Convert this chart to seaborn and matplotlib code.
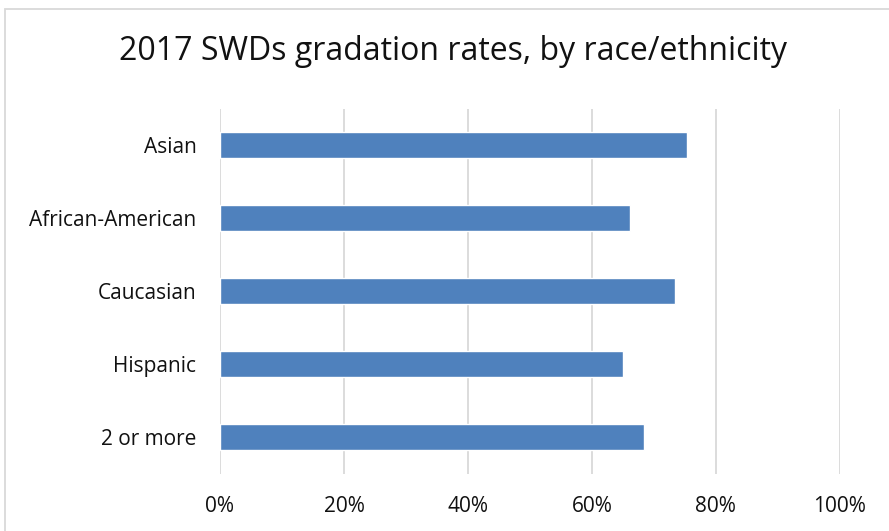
import matplotlib
matplotlib.use('Agg')
import matplotlib.pyplot as plt
import seaborn as sns
import pandas as pd
from matplotlib.ticker import PercentFormatter
from matplotlib.patches import Rectangle

# Data
groups = ['Asian', 'African-American', 'Caucasian', 'Hispanic', '2 or more']
rates = [0.754, 0.662, 0.735, 0.651, 0.684]
x_ticks = [0, 0.2, 0.4, 0.6, 0.8, 1.0]

df = pd.DataFrame({'Group': groups, 'Rate': rates})

sns.set_theme(style='white')
plt.rcParams['font.family'] = ['Open Sans', 'DejaVu Sans']

fig = plt.figure(figsize=(8.89, 5.31), dpi=100)
ax = fig.add_axes([220 / 889, 1 - 473.5 / 531, (839.7 - 220) / 889, (473.5 - 108.5) / 531])

sns.barplot(data=df, y='Group', x='Rate', color='#4F81BD', width=0.36,
            saturation=1, ax=ax, zorder=3)

ax.set_xlim(0, 1.0)
ax.set_ylim(4.5, -0.5)
ax.set_xticks(x_ticks)
ax.xaxis.set_major_formatter(PercentFormatter(1.0, decimals=0))
ax.grid(axis='x', color='#D9D9D9', linewidth=1.3, zorder=0)
ax.grid(axis='y', visible=False)
for s in ax.spines.values():
    s.set_visible(False)
ax.set_xlabel('')
ax.set_ylabel('')
ax.tick_params(axis='x', labelsize=15, colors='#111111', length=0, pad=16.5)
ax.tick_params(axis='y', labelsize=15, colors='#111111', length=0, pad=17)

fig.text(453 / 889, 1 - 51 / 531, '2017 SWDs gradation rates, by race/ethnicity',
         ha='center', va='center', fontsize=23, color='#111111')

# chart area frame
fig.patches.append(Rectangle((5 / 889, -0.05), 1.2, 1 - 9 / 531 + 0.05,
                             transform=fig.transFigure, fill=False,
                             edgecolor='#D9D9D9', linewidth=1.3))

fig.savefig('out.png', dpi=100)
